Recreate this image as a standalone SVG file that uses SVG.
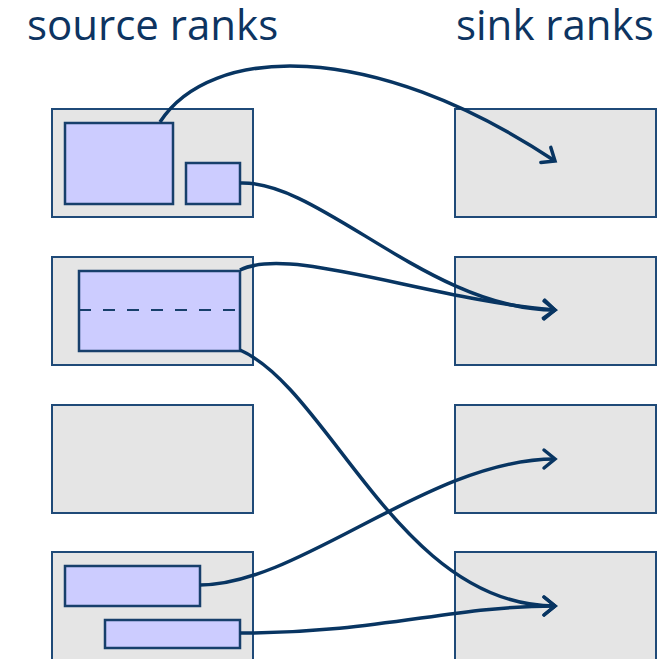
<svg xmlns="http://www.w3.org/2000/svg" width="672" height="659" viewBox="0 0 672 659">
  <style>
    .title { font-family: "Open Sans", "Noto Sans", sans-serif; font-size: 42px; fill: #0d3461; }
    .rank { fill: #e5e5e5; stroke: #1f4a78; stroke-width: 2; }
    .block { fill: #ccccff; stroke: #173f6b; stroke-width: 2.5; }
    .split { stroke: #173f6b; stroke-width: 2; stroke-dasharray: 12 12; fill: none; }
    .flow { fill: none; stroke: #083562; stroke-width: 3.5; marker-end: url(#head); }
  </style>
  <defs>
    <marker id="head" markerUnits="userSpaceOnUse" markerWidth="20" markerHeight="24" viewBox="-14 -12 18 24" refX="0" refY="0" orient="auto">
      <path d="M-11,-9 L0,0 L-11,9" fill="none" stroke="#083562" stroke-width="3.5" stroke-linecap="round" stroke-linejoin="miter"/>
    </marker>
  </defs>

  <text class="title" x="27" y="40">source ranks</text>
  <text class="title" x="456" y="40">sink ranks</text>

  <!-- source ranks -->
  <g id="src0">
    <rect class="rank" x="52" y="109" width="201" height="108"/>
    <rect class="block" x="65" y="123" width="108" height="81"/>
    <rect class="block" x="186" y="163" width="54" height="41"/>
  </g>
  <g id="src1">
    <rect class="rank" x="52" y="257" width="201" height="108"/>
    <rect class="block" x="79" y="271" width="161" height="80"/>
    <line class="split" x1="79" y1="310" x2="236" y2="310"/>
  </g>
  <g id="src2">
    <rect class="rank" x="52" y="405" width="201" height="108"/>
  </g>
  <g id="src3">
    <rect class="rank" x="52" y="552" width="201" height="108"/>
    <rect class="block" x="65" y="566" width="135" height="40"/>
    <rect class="block" x="105" y="620" width="135" height="28"/>
  </g>

  <!-- sink ranks -->
  <g id="sink0"><rect class="rank" x="455" y="109" width="201" height="108"/></g>
  <g id="sink1"><rect class="rank" x="455" y="257" width="201" height="108"/></g>
  <g id="sink2"><rect class="rank" x="455" y="405" width="201" height="108"/></g>
  <g id="sink3"><rect class="rank" x="455" y="552" width="201" height="108"/></g>

  <!-- transfers -->
  <g id="connectors">
    <path class="flow" d="M160,122 C210,45 370,38 555,161"/>
    <path class="flow" d="M240,183 C320,180 430,310 555,310"/>
    <path class="flow" d="M240,270 C290,245 430,300 555,310"/>
    <path class="flow" d="M240,350 C330,390 400,606 555,606"/>
    <path class="flow" d="M200,585 C300,585 430,459 555,459"/>
    <path class="flow" d="M240,633 C380,633 450,606 555,606"/>
  </g>
</svg>
